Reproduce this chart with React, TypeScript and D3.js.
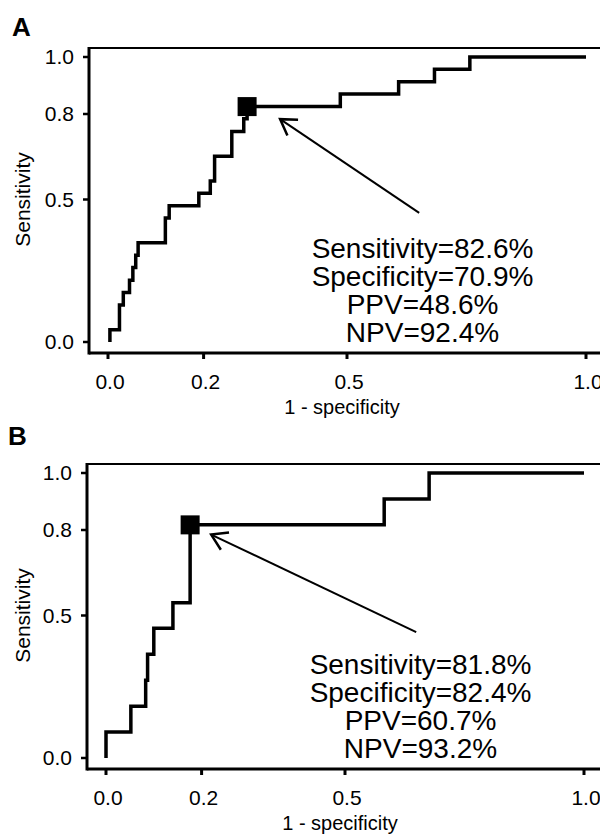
import React from 'react';
import * as d3 from 'd3';

// axis ticks (same for both panels)
const xTicks = [0, 0.2, 0.5, 1.0];
const yTicks = [0, 0.5, 0.8, 1.0];

// panel A: ROC corners (1 - specificity, sensitivity)
const fprA = [0.004, 0.004, 0.024, 0.032, 0.045, 0.052, 0.058, 0.063, 0.120, 0.128, 0.190, 0.214, 0.223, 0.259, 0.284, 0.291, 0.486, 0.608, 0.683, 0.757, 1.0];
const tprA = [0, 0.043, 0.130, 0.174, 0.217, 0.261, 0.304, 0.348, 0.435, 0.478, 0.522, 0.565, 0.652, 0.739, 0.783, 0.826, 0.870, 0.913, 0.957, 1.0, 1.0];
const cutA = [0.291, 0.826];
const statsA = ['Sensitivity=82.6%', 'Specificity=70.9%', 'PPV=48.6%', 'NPV=92.4%'];
const arrowA = [[0.651, 0.453], [0.36, 0.782]]; // tail, tip
const textA = [0.658, 0.293];

// panel B
const fprB = [0.0, 0.0, 0.052, 0.083, 0.087, 0.100, 0.140, 0.176, 0.582, 0.676, 1.0];
const tprB = [0, 0.091, 0.182, 0.273, 0.364, 0.455, 0.545, 0.818, 0.909, 1.0, 1.0];
const cutB = [0.176, 0.818];
const statsB = ['Sensitivity=81.8%', 'Specificity=82.4%', 'PPV=60.7%', 'NPV=93.2%'];
const arrowB = [[0.649, 0.442], [0.22, 0.784]];
const textB = [0.658, 0.293];

const FONT = '"Liberation Sans", Arial, Helvetica, sans-serif';

type PanelProps = {
  label: string;
  labelPos: number[];
  fpr: number[];
  tpr: number[];
  cut: number[];
  stats: string[];
  arrow: number[][];
  textAt: number[];
  dx: number;
  dy: number;
};

function Panel({ label, labelPos, fpr, tpr, cut, stats, arrow, textAt, dx, dy }: PanelProps) {
  const x = d3.scaleLinear().domain([0, 1]).range([108 + dx, 586 + dx]);
  const y = d3.scaleLinear().domain([0, 1]).range([342 + dy, 57 + dy]);

  const left = x(0) - 19;
  const top = y(1) - 9;
  const bottom = y(0) + 11;

  const line = d3
    .line<number>()
    .x(i => x(fpr[i]))
    .y(i => y(tpr[i]))
    .curve(d3.curveStepAfter);

  // arrow head
  const [tx, ty] = [x(arrow[1][0]), y(arrow[1][1])];
  const [sx, sy] = [x(arrow[0][0]), y(arrow[0][1])];
  const ang = Math.atan2(sy - ty, sx - tx);
  const hl = 18;
  const spread = (32 * Math.PI) / 180;
  const b1 = [tx + hl * Math.cos(ang + spread), ty + hl * Math.sin(ang + spread)];
  const b2 = [tx + hl * Math.cos(ang - spread), ty + hl * Math.sin(ang - spread)];

  const sq = 19;

  return (
    <g fontFamily={FONT} fill="#000">
      <text x={labelPos[0]} y={labelPos[1]} fontSize={26} fontWeight="bold">
        {label}
      </text>

      {/* frame */}
      <line x1={left} x2={605} y1={top} y2={top} stroke="#000" strokeWidth={2} />
      <line x1={left} x2={605} y1={bottom} y2={bottom} stroke="#000" strokeWidth={3} />
      <line x1={left} x2={left} y1={top - 1} y2={bottom + 1.5} stroke="#000" strokeWidth={3} />

      {/* y axis */}
      {yTicks.map(t => (
        <g key={'y' + t}>
          <line x1={left - 6} x2={left} y1={y(t)} y2={y(t)} stroke="#000" strokeWidth={2.5} />
          <text x={left - 15} y={y(t)} dy="0.35em" textAnchor="end" fontSize={21}>
            {d3.format('.1f')(t)}
          </text>
        </g>
      ))}
      <text
        transform={`translate(30,${(y(0) + y(1)) / 2}) rotate(-90)`}
        textAnchor="middle"
        fontSize={21}
      >
        Sensitivity
      </text>

      {/* x axis */}
      {xTicks.map(t => (
        <g key={'x' + t}>
          <line x1={x(t)} x2={x(t)} y1={bottom} y2={bottom + 6} stroke="#000" strokeWidth={3} />
          <text x={x(t) + 2} y={bottom + 36} textAnchor="middle" fontSize={21}>
            {d3.format('.1f')(t)}
          </text>
        </g>
      ))}
      <text x={(x(0) + x(1)) / 2 - 5} y={bottom + 61} textAnchor="middle" fontSize={20}>
        1 - specificity
      </text>

      {/* ROC curve */}
      <path d={line(d3.range(fpr.length)) || ''} fill="none" stroke="#000" strokeWidth={3.5} />

      {/* cut-off */}
      <rect x={x(cut[0]) - sq / 2} y={y(cut[1]) - sq / 2} width={sq} height={sq} fill="#000" />

      {/* arrow */}
      <line x1={sx} y1={sy} x2={tx} y2={ty} stroke="#000" strokeWidth={2} />
      <polyline
        points={`${b1[0]},${b1[1]} ${tx},${ty} ${b2[0]},${b2[1]}`}
        fill="none"
        stroke="#000"
        strokeWidth={2.5}
      />

      {/* stats */}
      <text x={x(textAt[0])} y={y(textAt[1])} textAnchor="middle" fontSize={28}>
        {stats.map((s, i) => (
          <tspan key={s} x={x(textAt[0])} dy={i === 0 ? 0 : 28}>
            {s}
          </tspan>
        ))}
      </text>
    </g>
  );
}

export default function App() {
  return (
    <svg
      width={600}
      height={834}
      style={{ position: 'absolute', left: 0, top: 0, background: '#fff' }}
    >
      <rect width={600} height={834} fill="#fff" />
      <Panel
        label="A"
        labelPos={[12, 36]}
        fpr={fprA}
        tpr={tprA}
        cut={cutA}
        stats={statsA}
        arrow={arrowA}
        textAt={textA}
        dx={0}
        dy={0}
      />
      <Panel
        label="B"
        labelPos={[8, 445]}
        fpr={fprB}
        tpr={tprB}
        cut={cutB}
        stats={statsB}
        arrow={arrowB}
        textAt={textB}
        dx={-2}
        dy={416}
      />
    </svg>
  );
}
